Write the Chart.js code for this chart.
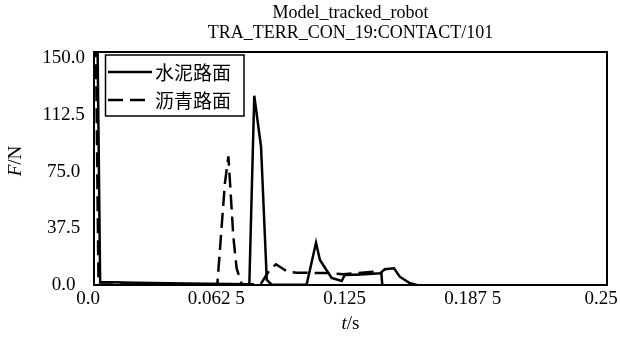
<!DOCTYPE html>
<html><head><meta charset="utf-8">
<script src="https://cdn.jsdelivr.net/npm/chart.js@4.4.1/dist/chart.umd.min.js"></script>
<style>html,body{margin:0;padding:0;background:#fff;} canvas{display:block;}</style>
</head><body>
<canvas id="c" width="620" height="338"></canvas>
<script>
const chartTitle = ['Model_tracked_robot', 'TRA_TERR_CON_19:CONTACT/101'];
const seriesNames = ['水泥路面', '沥青路面'];
const solidT = [0.0016, 0.0030, 0.020, 0.045, 0.0757, 0.0781, 0.0814, 0.0842, 0.0866, 0.1036, 0.1082, 0.1101, 0.1158, 0.1207, 0.1222, 0.1300, 0.1394, 0.1417, 0.1462, 0.1490, 0.1540, 0.1573];
const solidF = [175, 2.0, 1.5, 1.0, 0.5, 125.1, 91.4, 3.3, 0.2, 0.2, 28.0, 16.5, 4.6, 2.6, 6.6, 7.0, 7.7, 10.4, 11.0, 5.5, 1.1, 0];
const dashT = [0.0008, 0.0022, 0.030, 0.0601, 0.0638, 0.0655, 0.0663, 0.0679, 0.0695, 0.0720, 0.0812, 0.0856, 0.0887, 0.0942, 0.0988, 0.1134, 0.1215, 0.1361, 0.1400, 0.1405];
const dashF = [175, 0.3, 0.3, 0.3, 67.4, 85.0, 67.4, 32.0, 11.0, 0.5, 0.5, 10.0, 13.7, 8.8, 8.1, 7.9, 7.1, 8.8, 8.0, 0.3];
const xTickValues = [0, 0.0625, 0.125, 0.1875, 0.25];
const xTickLabels = ['0.0', '0.062 5', '0.125', '0.187 5', '0.25'];
const yTickValues = [0, 37.5, 75, 112.5, 150];
const yTickLabels = ['0.0', '37.5', '75.0', '112.5', '150.0'];
const xTitle = ['t', '/s'];
const yTitle = ['F', '/N'];

const serif = '"Liberation Serif", "Times New Roman", serif';
const cjk = '"Noto Sans CJK SC", sans-serif';

const decor = {
  id: 'decor',
  afterDraw(chart) {
    const ctx = chart.ctx;
    const a = chart.chartArea;
    ctx.save();
    // frame
    ctx.strokeStyle = '#000';
    ctx.lineWidth = 2;
    ctx.setLineDash([]);
    ctx.strokeRect(a.left, a.top, a.right - a.left, a.bottom - a.top);
    // title
    ctx.fillStyle = '#000';
    ctx.textAlign = 'center';
    ctx.textBaseline = 'middle';
    ctx.font = '18px ' + serif;
    const cx = (a.left + a.right) / 2;
    ctx.fillText(chartTitle[0], cx, 13);
    ctx.fillText(chartTitle[1], cx, 33);
    // x title
    ctx.font = '19px ' + serif;
    const drawMixed = (parts, x, y) => {
      ctx.font = 'italic 19px ' + serif;
      const w0 = ctx.measureText(parts[0]).width;
      ctx.font = '19px ' + serif;
      const w1 = ctx.measureText(parts[1]).width;
      let sx = x - (w0 + w1) / 2;
      ctx.textAlign = 'left';
      ctx.font = 'italic 19px ' + serif;
      ctx.fillText(parts[0], sx, y);
      ctx.font = '19px ' + serif;
      ctx.fillText(parts[1], sx + w0, y);
    };
    drawMixed(xTitle, cx, 324);
    ctx.save();
    ctx.translate(16, 161);
    ctx.rotate(-Math.PI / 2);
    drawMixed(yTitle, 0, 0);
    ctx.restore();
    // legend
    ctx.lineWidth = 1.5;
    ctx.strokeRect(105.5, 55, 138.5, 61);
    const ds = chart.data.datasets;
    const rows = [72, 100];
    ds.forEach((d, i) => {
      ctx.beginPath();
      ctx.lineWidth = 2.5;
      ctx.setLineDash(d.borderDash || []);
      ctx.moveTo(108, rows[i]);
      ctx.lineTo(152, rows[i]);
      ctx.stroke();
      ctx.setLineDash([]);
      ctx.font = '19px ' + cjk;
      ctx.textAlign = 'left';
      ctx.textBaseline = 'middle';
      ctx.fillText(d.label, 155, rows[i] + 1);
    });
    ctx.restore();
  }
};

const mk = (T, F) => T.map((t, i) => ({x: t, y: F[i]}));

new Chart(document.getElementById('c'), {
  type: 'line',
  data: {
    datasets: [
      { label: seriesNames[0], data: mk(solidT, solidF), borderColor: '#000', borderWidth: 2.5, pointRadius: 0, tension: 0, fill: false },
      { label: seriesNames[1], data: mk(dashT, dashF), borderColor: '#000', borderWidth: 2.5, borderDash: [15, 7], pointRadius: 0, tension: 0, fill: false }
    ]
  },
  options: {
    responsive: false,
    devicePixelRatio: 1,
    animation: false,
    events: [],
    layout: { padding: { top: 52, right: 13, left: 0, bottom: 0 } },
    plugins: { legend: { display: false }, title: { display: false }, tooltip: { enabled: false } },
    scales: {
      x: {
        type: 'linear', min: 0, max: 0.25,
        afterBuildTicks: s => { s.ticks = xTickValues.map(v => ({ value: v })); },
        afterFit: s => { s.height = 53; s.paddingLeft = 0; s.paddingRight = 0; },
        grid: { display: false, drawTicks: false },
        border: { display: false },
        ticks: {
          autoSkip: false, maxRotation: 0, minRotation: 0, padding: 3, labelOffset: -6,
          color: '#000', font: { family: serif, size: 19 },
          callback: v => { const i = xTickValues.findIndex(t => Math.abs(t - v) < 1e-9); return i < 0 ? '' : xTickLabels[i]; }
        }
      },
      y: {
        min: 0, max: 154,
        afterBuildTicks: s => { s.ticks = yTickValues.map(v => ({ value: v })); },
        afterFit: s => { s.width = 94; s.paddingTop = 0; s.paddingBottom = 0; },
        grid: { display: false, drawTicks: false },
        border: { display: false },
        ticks: {
          padding: 9, crossAlign: 'center',
          color: '#000', font: { family: serif, size: 19 },
          callback: v => { const i = yTickValues.findIndex(t => Math.abs(t - v) < 1e-9); return i < 0 ? '' : yTickLabels[i]; }
        }
      }
    }
  },
  plugins: [decor]
});
</script>
</body></html>
